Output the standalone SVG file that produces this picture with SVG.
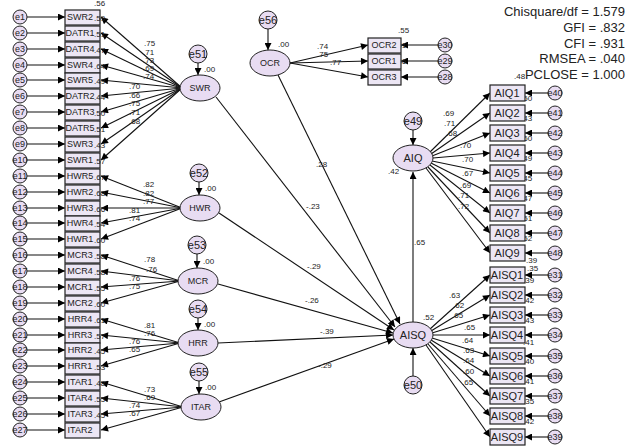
<svg xmlns="http://www.w3.org/2000/svg" width="630" height="446" viewBox="0 0 630 446">
<defs>
<marker id="a" viewBox="0 0 10 10" refX="10" refY="5" markerWidth="9" markerHeight="7" markerUnits="userSpaceOnUse" orient="auto"><path d="M0,0L10,5L0,10z" fill="#000"/></marker>
<style>
.b{fill:#ece6f4;stroke:#222;stroke-width:1.2}
.e{fill:#e8dcf2;stroke:#222;stroke-width:1}
text{font-family:"Liberation Sans",Arial,sans-serif;fill:#222}
.t{font-size:9px;text-anchor:middle;dominant-baseline:central}
.bt{font-size:11px;text-anchor:middle;dominant-baseline:central}
.n{font-size:8px}
.s{font-size:13px;text-anchor:end}
line,path.l{stroke:#111;stroke-width:1.1;fill:none;marker-end:url(#a)}
</style>
</defs>
<rect width="630" height="446" fill="#fff"/>
<g id="stats">
<text class="s" x="625" y="16">Chisquare/df = 1.579</text>
<text class="s" x="625" y="32">GFI = .832</text>
<text class="s" x="625" y="48">CFI = .931</text>
<text class="s" x="625" y="63">RMSEA = .040</text>
<text class="s" x="625" y="79">PCLOSE = 1.000</text>
</g>
<g id="connectors">
<line x1="27" y1="17" x2="65" y2="17"/><line x1="27" y1="33" x2="65" y2="33"/><line x1="27" y1="49" x2="65" y2="49"/><line x1="27" y1="65" x2="65" y2="65"/><line x1="27" y1="80" x2="65" y2="80"/><line x1="27" y1="96" x2="65" y2="96"/><line x1="27" y1="112" x2="65" y2="112"/><line x1="27" y1="128" x2="65" y2="128"/><line x1="27" y1="144" x2="65" y2="144"/><line x1="27" y1="160" x2="65" y2="160"/><line x1="27" y1="176" x2="65" y2="176"/><line x1="27" y1="192" x2="65" y2="192"/><line x1="27" y1="208" x2="65" y2="208"/><line x1="27" y1="223" x2="65" y2="223"/><line x1="27" y1="239" x2="65" y2="239"/><line x1="27" y1="255" x2="65" y2="255"/><line x1="27" y1="271" x2="65" y2="271"/><line x1="27" y1="287" x2="65" y2="287"/><line x1="27" y1="303" x2="65" y2="303"/><line x1="27" y1="319" x2="65" y2="319"/><line x1="27" y1="335" x2="65" y2="335"/><line x1="27" y1="350" x2="65" y2="350"/><line x1="27" y1="366" x2="65" y2="366"/><line x1="27" y1="382" x2="65" y2="382"/><line x1="27" y1="398" x2="65" y2="398"/><line x1="27" y1="414" x2="65" y2="414"/><line x1="27" y1="430" x2="65" y2="430"/>
<line x1="182" y1="88" x2="101" y2="17"/><line x1="182" y1="88" x2="101" y2="33"/><line x1="182" y1="88" x2="101" y2="49"/><line x1="182" y1="88" x2="101" y2="65"/><line x1="182" y1="88" x2="101" y2="80"/><line x1="182" y1="88" x2="101" y2="96"/><line x1="182" y1="88" x2="101" y2="112"/><line x1="182" y1="88" x2="101" y2="128"/><line x1="182" y1="88" x2="101" y2="144"/><line x1="182" y1="88" x2="101" y2="160"/>
<line x1="182" y1="208" x2="101" y2="176"/><line x1="182" y1="208" x2="101" y2="192"/><line x1="182" y1="208" x2="101" y2="208"/><line x1="182" y1="208" x2="101" y2="223"/><line x1="182" y1="208" x2="101" y2="239"/>
<line x1="180" y1="281" x2="101" y2="255"/><line x1="180" y1="281" x2="101" y2="271"/><line x1="180" y1="281" x2="101" y2="287"/><line x1="180" y1="281" x2="101" y2="303"/>
<line x1="180" y1="343" x2="101" y2="319"/><line x1="180" y1="343" x2="101" y2="335"/><line x1="180" y1="343" x2="101" y2="350"/><line x1="180" y1="343" x2="101" y2="366"/>
<line x1="183" y1="407" x2="101" y2="382"/><line x1="183" y1="407" x2="101" y2="398"/><line x1="183" y1="407" x2="101" y2="414"/><line x1="183" y1="407" x2="101" y2="430"/>
<line x1="198" y1="63" x2="198" y2="75"/><line x1="199" y1="182" x2="199" y2="195"/><line x1="197" y1="254" x2="197" y2="268"/><line x1="198" y1="318" x2="198" y2="330"/><line x1="199" y1="381" x2="199" y2="394"/><line x1="268" y1="29" x2="268" y2="50"/><line x1="413" y1="130" x2="413" y2="145"/><line x1="413" y1="376" x2="413" y2="348"/>
<line x1="290" y1="63" x2="368" y2="45"/><line x1="290" y1="63" x2="368" y2="61"/><line x1="290" y1="63" x2="368" y2="77"/>
<line x1="438" y1="45" x2="401" y2="45"/><line x1="438" y1="61" x2="401" y2="61"/><line x1="438" y1="77" x2="401" y2="77"/>
<line x1="216" y1="97" x2="395" y2="327"/><line x1="219" y1="213" x2="394" y2="330"/><line x1="218" y1="284" x2="393" y2="333"/><line x1="218" y1="343" x2="393" y2="335"/><line x1="219" y1="402" x2="394" y2="339"/><line x1="278" y1="75" x2="400" y2="324"/><line x1="413" y1="322" x2="413" y2="172"/>
<line x1="430" y1="152" x2="490" y2="93"/><line x1="431" y1="154" x2="490" y2="113"/><line x1="432" y1="156" x2="490" y2="133"/><line x1="433" y1="158" x2="490" y2="153"/><line x1="432" y1="161" x2="490" y2="173"/><line x1="431" y1="163" x2="490" y2="193"/><line x1="430" y1="165" x2="490" y2="213"/><line x1="428" y1="167" x2="490" y2="233"/><line x1="426" y1="168" x2="490" y2="253"/>
<line x1="548" y1="93" x2="525" y2="93"/><line x1="548" y1="113" x2="525" y2="113"/><line x1="548" y1="133" x2="525" y2="133"/><line x1="548" y1="153" x2="525" y2="153"/><line x1="548" y1="173" x2="525" y2="173"/><line x1="548" y1="193" x2="525" y2="193"/><line x1="548" y1="213" x2="525" y2="213"/><line x1="548" y1="233" x2="525" y2="233"/><line x1="548" y1="253" x2="525" y2="253"/>
<line x1="430" y1="329" x2="490" y2="275"/><line x1="431" y1="331" x2="490" y2="295"/><line x1="432" y1="333" x2="490" y2="315"/><line x1="433" y1="335" x2="490" y2="335"/><line x1="432" y1="338" x2="490" y2="356"/><line x1="431" y1="340" x2="490" y2="376"/><line x1="430" y1="342" x2="490" y2="396"/><line x1="428" y1="344" x2="490" y2="416"/><line x1="426" y1="345" x2="490" y2="437"/>
<line x1="548" y1="275" x2="525" y2="275"/><line x1="548" y1="295" x2="525" y2="295"/><line x1="548" y1="315" x2="525" y2="315"/><line x1="548" y1="335" x2="525" y2="335"/><line x1="548" y1="356" x2="525" y2="356"/><line x1="548" y1="376" x2="525" y2="376"/><line x1="548" y1="396" x2="525" y2="396"/><line x1="548" y1="416" x2="525" y2="416"/><line x1="548" y1="437" x2="525" y2="437"/>
</g>
<g id="left-errors">
<circle class="e" cx="20" cy="17" r="7"/><text class="t" x="20" y="17">e1</text>
<circle class="e" cx="20" cy="33" r="7"/><text class="t" x="20" y="33">e2</text>
<circle class="e" cx="20" cy="49" r="7"/><text class="t" x="20" y="49">e3</text>
<circle class="e" cx="20" cy="65" r="7"/><text class="t" x="20" y="65">e4</text>
<circle class="e" cx="20" cy="80" r="7"/><text class="t" x="20" y="80">e5</text>
<circle class="e" cx="20" cy="96" r="7"/><text class="t" x="20" y="96">e6</text>
<circle class="e" cx="20" cy="112" r="7"/><text class="t" x="20" y="112">e7</text>
<circle class="e" cx="20" cy="128" r="7"/><text class="t" x="20" y="128">e8</text>
<circle class="e" cx="20" cy="144" r="7"/><text class="t" x="20" y="144">e9</text>
<circle class="e" cx="20" cy="160" r="7"/><text class="t" x="20" y="160">e10</text>
<circle class="e" cx="20" cy="176" r="7"/><text class="t" x="20" y="176">e11</text>
<circle class="e" cx="20" cy="192" r="7"/><text class="t" x="20" y="192">e12</text>
<circle class="e" cx="20" cy="208" r="7"/><text class="t" x="20" y="208">e13</text>
<circle class="e" cx="20" cy="223" r="7"/><text class="t" x="20" y="223">e14</text>
<circle class="e" cx="20" cy="239" r="7"/><text class="t" x="20" y="239">e15</text>
<circle class="e" cx="20" cy="255" r="7"/><text class="t" x="20" y="255">e16</text>
<circle class="e" cx="20" cy="271" r="7"/><text class="t" x="20" y="271">e17</text>
<circle class="e" cx="20" cy="287" r="7"/><text class="t" x="20" y="287">e18</text>
<circle class="e" cx="20" cy="303" r="7"/><text class="t" x="20" y="303">e19</text>
<circle class="e" cx="20" cy="319" r="7"/><text class="t" x="20" y="319">e20</text>
<circle class="e" cx="20" cy="335" r="7"/><text class="t" x="20" y="335">e21</text>
<circle class="e" cx="20" cy="350" r="7"/><text class="t" x="20" y="350">e22</text>
<circle class="e" cx="20" cy="366" r="7"/><text class="t" x="20" y="366">e23</text>
<circle class="e" cx="20" cy="382" r="7"/><text class="t" x="20" y="382">e24</text>
<circle class="e" cx="20" cy="398" r="7"/><text class="t" x="20" y="398">e25</text>
<circle class="e" cx="20" cy="414" r="7"/><text class="t" x="20" y="414">e26</text>
<circle class="e" cx="20" cy="430" r="7"/><text class="t" x="20" y="430">e27</text>
</g>
<g id="left-boxes">
<rect class="b" x="65" y="10" width="35" height="15"/><text class="t" x="80" y="17">SWR2</text>
<rect class="b" x="65" y="26" width="35" height="15"/><text class="t" x="80" y="33">DATR1</text>
<rect class="b" x="65" y="42" width="35" height="15"/><text class="t" x="80" y="49">DATR4</text>
<rect class="b" x="65" y="58" width="35" height="15"/><text class="t" x="80" y="65">SWR4</text>
<rect class="b" x="65" y="73" width="35" height="15"/><text class="t" x="80" y="80">SWR5</text>
<rect class="b" x="65" y="89" width="35" height="15"/><text class="t" x="80" y="96">DATR2</text>
<rect class="b" x="65" y="105" width="35" height="15"/><text class="t" x="80" y="112">DATR3</text>
<rect class="b" x="65" y="121" width="35" height="15"/><text class="t" x="80" y="128">DATR5</text>
<rect class="b" x="65" y="137" width="35" height="15"/><text class="t" x="80" y="144">SWR3</text>
<rect class="b" x="65" y="153" width="35" height="15"/><text class="t" x="80" y="160">SWR1</text>
<rect class="b" x="65" y="169" width="35" height="15"/><text class="t" x="80" y="176">HWR5</text>
<rect class="b" x="65" y="185" width="35" height="15"/><text class="t" x="80" y="192">HWR2</text>
<rect class="b" x="65" y="201" width="35" height="15"/><text class="t" x="80" y="208">HWR3</text>
<rect class="b" x="65" y="216" width="35" height="15"/><text class="t" x="80" y="223">HWR4</text>
<rect class="b" x="65" y="232" width="35" height="15"/><text class="t" x="80" y="239">HWR1</text>
<rect class="b" x="65" y="248" width="35" height="15"/><text class="t" x="80" y="255">MCR3</text>
<rect class="b" x="65" y="264" width="35" height="15"/><text class="t" x="80" y="271">MCR4</text>
<rect class="b" x="65" y="280" width="35" height="15"/><text class="t" x="80" y="287">MCR1</text>
<rect class="b" x="65" y="296" width="35" height="15"/><text class="t" x="80" y="303">MCR2</text>
<rect class="b" x="65" y="312" width="35" height="15"/><text class="t" x="80" y="319">HRR4</text>
<rect class="b" x="65" y="328" width="35" height="15"/><text class="t" x="80" y="335">HRR3</text>
<rect class="b" x="65" y="343" width="35" height="15"/><text class="t" x="80" y="350">HRR2</text>
<rect class="b" x="65" y="359" width="35" height="15"/><text class="t" x="80" y="366">HRR1</text>
<rect class="b" x="65" y="375" width="35" height="15"/><text class="t" x="80" y="382">ITAR1</text>
<rect class="b" x="65" y="391" width="35" height="15"/><text class="t" x="80" y="398">ITAR4</text>
<rect class="b" x="65" y="407" width="35" height="15"/><text class="t" x="80" y="414">ITAR3</text>
<rect class="b" x="65" y="423" width="35" height="15"/><text class="t" x="80" y="430">ITAR2</text>
</g>
<g id="left-r2" class="n">
<text x="94" y="6" class="n">.56</text>
<text x="94" y="21">.59</text><text x="94" y="37">.51</text><text x="94" y="53">.47</text><text x="94" y="69">.64</text><text x="94" y="84">.49</text><text x="94" y="100">.44</text><text x="94" y="116">.50</text><text x="94" y="132">.51</text><text x="94" y="148">.43</text><text x="94" y="164">.57</text><text x="94" y="180">.67</text><text x="94" y="196">.68</text><text x="94" y="212">.66</text><text x="94" y="227">.54</text><text x="94" y="243">.60</text><text x="94" y="259">.58</text><text x="94" y="275">.58</text><text x="94" y="291">.55</text><text x="94" y="307">.60</text><text x="94" y="323">.61</text><text x="94" y="339">.57</text><text x="94" y="354">.45</text><text x="94" y="370">.53</text><text x="94" y="386">.48</text><text x="94" y="402">.55</text><text x="94" y="418">.45</text>
</g>
<g id="loadings" class="n">
<text x="144" y="46">.75</text><text x="143" y="55">.71</text><text x="143" y="63">.73</text><text x="143" y="71">.69</text><text x="143" y="79">.74</text><text x="129" y="89">.70</text><text x="129" y="98">.66</text><text x="129" y="106">.75</text><text x="129" y="115">.71</text><text x="129" y="124">.68</text>
<text x="143" y="187">.82</text><text x="143" y="196">.82</text><text x="143" y="204">.77</text><text x="129" y="213">.81</text><text x="129" y="221">.74</text>
<text x="144" y="262">.78</text><text x="146" y="272">.76</text><text x="129" y="281">.76</text><text x="129" y="289">.75</text>
<text x="144" y="328">.81</text><text x="144" y="336">.76</text><text x="129" y="344">.76</text><text x="129" y="352">.65</text>
<text x="144" y="392">.73</text><text x="144" y="400">.69</text><text x="129" y="408">.74</text><text x="129" y="416">.67</text>
<text x="204" y="72">.00</text><text x="205" y="191">.00</text><text x="203" y="264">.00</text><text x="204" y="327">.00</text><text x="205" y="390">.00</text><text x="278" y="47">.00</text>
<text x="317" y="49">.74</text><text x="317" y="57">.75</text><text x="330" y="65">.77</text>
<text x="398" y="33">.55</text><text x="395" y="48">.61</text><text x="395" y="64">.56</text>
<text x="316" y="167">.28</text><text x="306" y="209">-.23</text><text x="307" y="269">-.29</text><text x="305" y="303">-.26</text><text x="320" y="334">-.39</text><text x="318" y="368">-.29</text>
<text x="414" y="245">.65</text><text x="423" y="320">.52</text><text x="388" y="174">.42</text>
<text x="443" y="116">.69</text><text x="444" y="126">.71</text><text x="446" y="136">.68</text><text x="460" y="148">.70</text><text x="462" y="162">.70</text><text x="462" y="176">.67</text><text x="460" y="188">.69</text><text x="458" y="198">.71</text><text x="458" y="209">.72</text>
<text x="514" y="79">.48</text><text x="521" y="101">.50</text><text x="521" y="121">.43</text><text x="521" y="141">.60</text><text x="521" y="161">.49</text><text x="521" y="181">.45</text><text x="521" y="201">.47</text><text x="521" y="221">.51</text><text x="521" y="241">.52</text><text x="526" y="263">.39</text>
<text x="449" y="298">.63</text><text x="453" y="308">.62</text><text x="452" y="318">.65</text><text x="464" y="330">.65</text><text x="462" y="343">.64</text><text x="463" y="353">.63</text><text x="463" y="363">.64</text><text x="463" y="374">.60</text><text x="462" y="385">.65</text>
<text x="527" y="271">.35</text><text x="523" y="283">.39</text><text x="523" y="303">.42</text><text x="523" y="323">.43</text><text x="523" y="345">.41</text><text x="523" y="364">.40</text><text x="523" y="384">.41</text><text x="523" y="404">.35</text><text x="523" y="424">.42</text>
</g>
<g id="latents">
<ellipse class="e" cx="200" cy="88" rx="20" ry="13"/><text class="t" x="200" y="88">SWR</text>
<ellipse class="e" cx="200" cy="208" rx="20" ry="13"/><text class="t" x="200" y="208">HWR</text>
<ellipse class="e" cx="198" cy="281" rx="20" ry="13"/><text class="t" x="198" y="281">MCR</text>
<ellipse class="e" cx="198" cy="343" rx="20" ry="13"/><text class="t" x="198" y="343">HRR</text>
<ellipse class="e" cx="201" cy="407" rx="20" ry="13"/><text class="t" x="201" y="407">ITAR</text>
<ellipse class="e" cx="270" cy="63" rx="20" ry="13"/><text class="t" x="270" y="63">OCR</text>
<ellipse class="e" cx="413" cy="158" rx="20" ry="13"/><text class="bt" x="413" y="158">AIQ</text>
<ellipse class="e" cx="413" cy="335" rx="20" ry="13"/><text class="bt" x="413" y="335">AISQ</text>
</g>
<g id="disturbances">
<circle class="e" cx="198" cy="54" r="9"/><text class="bt" x="198" y="54">e51</text>
<circle class="e" cx="199" cy="173" r="9"/><text class="bt" x="199" y="173">e52</text>
<circle class="e" cx="197" cy="245" r="9"/><text class="bt" x="197" y="245">e53</text>
<circle class="e" cx="198" cy="309" r="9"/><text class="bt" x="198" y="309">e54</text>
<circle class="e" cx="199" cy="372" r="9"/><text class="bt" x="199" y="372">e55</text>
<circle class="e" cx="268" cy="20" r="9"/><text class="bt" x="268" y="20">e56</text>
<circle class="e" cx="413" cy="121" r="9"/><text class="bt" x="413" y="121">e49</text>
<circle class="e" cx="413" cy="385" r="9"/><text class="bt" x="413" y="385">e50</text>
</g>
<g id="ocr-items">
<rect class="b" x="368" y="38" width="33" height="15"/><text class="t" x="384" y="45">OCR2</text>
<rect class="b" x="368" y="54" width="33" height="15"/><text class="t" x="384" y="61">OCR1</text>
<rect class="b" x="368" y="70" width="33" height="15"/><text class="t" x="384" y="77">OCR3</text>
<circle class="e" cx="445" cy="45" r="7"/><text class="t" x="445" y="45">e30</text>
<circle class="e" cx="445" cy="61" r="7"/><text class="t" x="445" y="61">e29</text>
<circle class="e" cx="445" cy="77" r="7"/><text class="t" x="445" y="77">e28</text>
</g>
<g id="aiq-items">
<rect class="b" x="490" y="85" width="35" height="16"/><text class="bt" x="507" y="93">AIQ1</text>
<rect class="b" x="490" y="105" width="35" height="16"/><text class="bt" x="507" y="113">AIQ2</text>
<rect class="b" x="490" y="125" width="35" height="16"/><text class="bt" x="507" y="133">AIQ3</text>
<rect class="b" x="490" y="145" width="35" height="16"/><text class="bt" x="507" y="153">AIQ4</text>
<rect class="b" x="490" y="165" width="35" height="16"/><text class="bt" x="507" y="173">AIQ5</text>
<rect class="b" x="490" y="185" width="35" height="16"/><text class="bt" x="507" y="193">AIQ6</text>
<rect class="b" x="490" y="205" width="35" height="16"/><text class="bt" x="507" y="213">AIQ7</text>
<rect class="b" x="490" y="225" width="35" height="16"/><text class="bt" x="507" y="233">AIQ8</text>
<rect class="b" x="490" y="245" width="35" height="16"/><text class="bt" x="507" y="253">AIQ9</text>
<circle class="e" cx="555" cy="93" r="7"/><text class="t" x="555" y="93">e40</text>
<circle class="e" cx="555" cy="113" r="7"/><text class="t" x="555" y="113">e41</text>
<circle class="e" cx="555" cy="133" r="7"/><text class="t" x="555" y="133">e42</text>
<circle class="e" cx="555" cy="153" r="7"/><text class="t" x="555" y="153">e43</text>
<circle class="e" cx="555" cy="173" r="7"/><text class="t" x="555" y="173">e44</text>
<circle class="e" cx="555" cy="193" r="7"/><text class="t" x="555" y="193">e45</text>
<circle class="e" cx="555" cy="213" r="7"/><text class="t" x="555" y="213">e46</text>
<circle class="e" cx="555" cy="233" r="7"/><text class="t" x="555" y="233">e47</text>
<circle class="e" cx="555" cy="253" r="7"/><text class="t" x="555" y="253">e48</text>
</g>
<g id="aisq-items">
<rect class="b" x="490" y="267" width="35" height="16"/><text class="bt" x="507" y="275">AISQ1</text>
<rect class="b" x="490" y="287" width="35" height="16"/><text class="bt" x="507" y="295">AISQ2</text>
<rect class="b" x="490" y="307" width="35" height="16"/><text class="bt" x="507" y="315">AISQ3</text>
<rect class="b" x="490" y="327" width="35" height="16"/><text class="bt" x="507" y="335">AISQ4</text>
<rect class="b" x="490" y="348" width="35" height="16"/><text class="bt" x="507" y="356">AISQ5</text>
<rect class="b" x="490" y="368" width="35" height="16"/><text class="bt" x="507" y="376">AISQ6</text>
<rect class="b" x="490" y="388" width="35" height="16"/><text class="bt" x="507" y="396">AISQ7</text>
<rect class="b" x="490" y="408" width="35" height="16"/><text class="bt" x="507" y="416">AISQ8</text>
<rect class="b" x="490" y="429" width="35" height="16"/><text class="bt" x="507" y="437">AISQ9</text>
<circle class="e" cx="555" cy="275" r="7"/><text class="t" x="555" y="275">e31</text>
<circle class="e" cx="555" cy="295" r="7"/><text class="t" x="555" y="295">e32</text>
<circle class="e" cx="555" cy="315" r="7"/><text class="t" x="555" y="315">e33</text>
<circle class="e" cx="555" cy="335" r="7"/><text class="t" x="555" y="335">e34</text>
<circle class="e" cx="555" cy="356" r="7"/><text class="t" x="555" y="356">e35</text>
<circle class="e" cx="555" cy="376" r="7"/><text class="t" x="555" y="376">e36</text>
<circle class="e" cx="555" cy="396" r="7"/><text class="t" x="555" y="396">e37</text>
<circle class="e" cx="555" cy="416" r="7"/><text class="t" x="555" y="416">e38</text>
<circle class="e" cx="555" cy="437" r="7"/><text class="t" x="555" y="437">e39</text>
</g>
</svg>
